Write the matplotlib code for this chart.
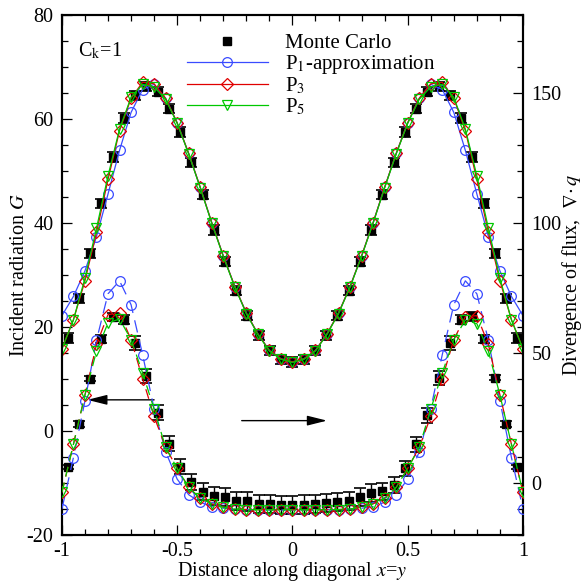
import matplotlib
matplotlib.use("Agg")
import matplotlib.pyplot as plt
from matplotlib.ticker import MultipleLocator, FuncFormatter

plt.rcParams['font.family'] = ['Liberation Serif', 'DejaVu Serif']
plt.rcParams['mathtext.fontset'] = 'stix'
plt.rcParams['axes.unicode_minus'] = False

# model grid along the diagonal
x = [-1.0, -0.95, -0.9, -0.85, -0.8, -0.75, -0.7, -0.65, -0.6, -0.55, -0.5,
     -0.45, -0.4, -0.35, -0.3, -0.25, -0.2, -0.15, -0.1, -0.05, 0.0,
     0.05, 0.1, 0.15, 0.2, 0.25, 0.3, 0.35, 0.4, 0.45, 0.5,
     0.55, 0.6, 0.65, 0.7, 0.75, 0.8, 0.85, 0.9, 0.95, 1.0]
# Monte Carlo sample positions
x_mc = [-0.975, -0.926, -0.878, -0.829, -0.780, -0.731, -0.683, -0.634, -0.585, -0.536,
        -0.488, -0.439, -0.390, -0.341, -0.293, -0.244, -0.195, -0.146, -0.098, -0.049, 0.0,
        0.049, 0.098, 0.146, 0.195, 0.244, 0.293, 0.341, 0.390, 0.439, 0.488,
        0.536, 0.585, 0.634, 0.683, 0.731, 0.780, 0.829, 0.878, 0.926, 0.975]

# incident radiation G (left axis)
g_p1 = [22.2, 25.9, 30.8, 37.4, 45.6, 54.0, 61.3, 65.7, 66.7, 64.0, 59.3,
        53.4, 46.9, 40.1, 33.7, 27.8, 22.7, 18.7, 15.5, 13.9, 13.3,
        13.9, 15.5, 18.7, 22.7, 27.8, 33.7, 40.1, 46.9, 53.4, 59.3,
        64.0, 66.7, 65.7, 61.3, 54.0, 45.6, 37.4, 30.8, 25.9, 22.2]
g_p3 = [15.8, 21.4, 28.9, 38.2, 48.4, 57.8, 64.0, 67.1, 66.8, 64.0, 59.3,
        53.4, 46.9, 40.1, 33.7, 27.8, 22.7, 18.7, 15.5, 13.9, 13.3,
        13.9, 15.5, 18.7, 22.7, 27.8, 33.7, 40.1, 46.9, 53.4, 59.3,
        64.0, 66.8, 67.1, 64.0, 57.8, 48.4, 38.2, 28.9, 21.4, 15.8]
g_p5 = [15.8, 21.4, 29.4, 39.0, 49.1, 58.1, 64.2, 66.7, 66.2, 63.8, 59.2,
        53.3, 46.8, 40.0, 33.6, 27.7, 22.6, 18.6, 15.4, 13.8, 13.2,
        13.8, 15.4, 18.6, 22.6, 27.7, 33.6, 40.0, 46.8, 53.3, 59.2,
        63.8, 66.2, 66.7, 64.2, 58.1, 49.1, 39.0, 29.4, 21.4, 15.8]
g_mc = [17.9, 25.5, 34.2, 43.8, 52.7, 60.2, 64.6, 66.3, 65.3, 62.0, 57.5,
        51.7, 45.5, 38.7, 32.6, 27.0, 22.2, 18.4, 15.5, 13.8, 13.3,
        13.8, 15.5, 18.4, 22.2, 27.0, 32.6, 38.7, 45.5, 51.7, 57.5,
        62.0, 65.3, 66.3, 64.6, 60.2, 52.7, 43.8, 34.2, 25.5, 17.9]
g_err = [0.9] * 41

# divergence of flux (right axis)
d_p1 = [-10.0, 9.8, 31.6, 54.9, 72.8, 77.8, 68.6, 49.4, 28.6, 12.0, 1.5,
        -4.5, -7.4, -9.1, -9.7, -10.0, -10.2, -10.3, -10.4, -10.4, -10.4,
        -10.4, -10.4, -10.3, -10.2, -10.0, -9.7, -9.1, -7.4, -4.5, 1.5,
        12.0, 28.6, 49.4, 68.6, 77.8, 72.8, 54.9, 31.6, 9.8, -10.0]
d_p3 = [-3.6, 14.9, 33.9, 53.3, 64.8, 65.4, 55.2, 40.2, 25.6, 13.7, 5.6,
        -1.7, -5.9, -8.0, -9.3, -10.0, -10.2, -10.3, -10.3, -10.3, -10.3,
        -10.3, -10.3, -10.3, -10.2, -10.0, -9.3, -8.0, -5.9, -1.7, 5.6,
        13.7, 25.6, 40.2, 55.2, 64.0, 64.4, 53.3, 33.9, 14.9, -3.6]
d_p5 = [-3.6, 14.9, 33.9, 50.7, 61.6, 63.1, 55.2, 42.4, 28.4, 13.7, 5.6,
        -1.7, -5.9, -8.0, -9.3, -10.0, -10.2, -10.3, -10.3, -10.3, -10.3,
        -10.3, -10.3, -10.3, -10.2, -10.0, -9.3, -8.0, -5.9, -1.7, 5.6,
        13.7, 28.4, 42.4, 55.2, 62.7, 61.3, 50.7, 33.9, 14.9, -3.6]
d_mc = [6.0, 22.6, 40.1, 55.5, 63.8, 62.9, 53.9, 41.1, 27.1, 15.2, 6.3,
        0.3, -3.3, -4.9, -5.5, -6.8, -7.1, -8.0, -8.2, -8.4, -8.5,
        -8.3, -8.0, -7.6, -7.4, -7.0, -5.5, -3.9, -3.2, -0.8, 5.6,
        14.9, 26.1, 40.5, 53.9, 62.9, 64.1, 55.5, 40.5, 22.6, 6.0]
d_err = [0.8, 1.2, 1.0, 1.6, 1.6, 1.9, 2.6, 2.7, 2.9, 2.9, 3.0,
         3.0, 3.2, 3.5, 3.5, 3.5, 3.5, 3.5, 3.5, 3.5, 3.5,
         3.5, 3.5, 3.5, 3.5, 3.5, 3.5, 3.5, 3.2, 3.0, 3.0,
         2.9, 2.9, 2.7, 2.6, 1.9, 1.6, 1.6, 1.0, 1.2, 0.8]

blue = '#3a4bff'
red = '#e00000'
green = '#00c800'
fs = 14.5

fig = plt.figure(figsize=(5.84, 5.85), dpi=100)
ax = fig.add_axes([0.106, 0.0855, 0.7895, 0.8885])
ax2 = ax.twinx()

mk = dict(fillstyle='none', markeredgewidth=0.9)

# upper curves: incident radiation
ax.errorbar(x_mc, g_mc, yerr=g_err, fmt='none', ecolor='black', elinewidth=1,
            capsize=4, capthick=1.2, zorder=2)
ax.plot(x_mc, g_mc, 's', color='black', ms=5.5, zorder=2, label='Monte Carlo')
ax.plot(x, g_p1, '-', color=blue, lw=0.9, marker='o', ms=7, zorder=3, label='P$_1$-approximation', **mk)
ax.plot(x, g_p3, '-', color=red, lw=0.9, marker='D', ms=6, zorder=4, label='P$_3$', **mk)
ax.plot(x, g_p5, '-', color=green, lw=0.9, marker='v', ms=7, zorder=5, label='P$_5$', **mk)

# lower curves: divergence of flux
ax2.errorbar(x_mc, d_mc, yerr=d_err, fmt='none', ecolor='black', elinewidth=1,
             capsize=4, capthick=1.2, zorder=2)
ax2.plot(x_mc, d_mc, 's', color='black', ms=5.5, zorder=2)
ax2.plot(x, d_p1, color=blue, lw=0.9, ls=(0, (10, 6)), marker='o', ms=7, zorder=3, **mk)
ax2.plot(x, d_p3, color=red, lw=0.9, ls=(0, (8, 5)), marker='D', ms=6, zorder=4, **mk)
ax2.plot(x, d_p5, color=green, lw=0.9, ls=(0, (8, 5)), marker='v', ms=7, zorder=5, **mk)

ax.set_xlim(-1, 1)
ax.set_ylim(-20, 80)
ax2.set_ylim(-20, 180)

ax.xaxis.set_major_locator(MultipleLocator(0.5))
ax.xaxis.set_minor_locator(MultipleLocator(0.1))
ax.yaxis.set_major_locator(MultipleLocator(20))
ax.yaxis.set_minor_locator(MultipleLocator(5))
ax2.yaxis.set_major_locator(MultipleLocator(50))
ax2.yaxis.set_minor_locator(MultipleLocator(10))
fmt = FuncFormatter(lambda v, p: '%g' % v)
ax.xaxis.set_major_formatter(fmt)
ax.yaxis.set_major_formatter(fmt)
ax2.yaxis.set_major_formatter(fmt)

ax.tick_params(which='both', direction='in', top=True, right=False, labelsize=fs, width=0.9)
ax.tick_params(which='major', length=7)
ax.tick_params(which='minor', length=4)
ax.tick_params(axis='y', pad=6)
ax.tick_params(axis='x', pad=5)
ax2.tick_params(which='both', direction='in', labelsize=fs, width=0.9, pad=6)
ax2.tick_params(which='major', length=7)
ax2.tick_params(which='minor', length=4)
for a in (ax, ax2):
    for s in a.spines.values():
        s.set_linewidth(1.5)

ax.set_xlabel('Distance along diagonal $x$=$y$', fontsize=fs, labelpad=-1)
ax.set_ylabel('Incident radiation $G$', fontsize=fs, labelpad=-1.5)
ax2.set_ylabel(r'Divergence of flux,  $\nabla\!\cdot q$', fontsize=fs, labelpad=-1)

ax.text(-0.93, 73.2, 'C$_\\mathrm{k}$=1', fontsize=fs, ha='left', va='center')

ap = dict(arrowstyle='-|>,head_length=0.6,head_width=0.15', mutation_scale=20,
          color='black', lw=1.0, shrinkA=0, shrinkB=0)
ax.annotate('', xy=(-0.89, 6), xytext=(-0.6, 6), arrowprops=ap)
ax.annotate('', xy=(0.15, 2), xytext=(-0.22, 2), arrowprops=ap)

ax.legend(loc='upper left', bbox_to_anchor=(0.271, 0.965), frameon=False,
          fontsize=15, borderpad=0, handlelength=3.9, handletextpad=0.8,
          labelspacing=0.0, borderaxespad=0)

fig.savefig('out.png', dpi=100)
